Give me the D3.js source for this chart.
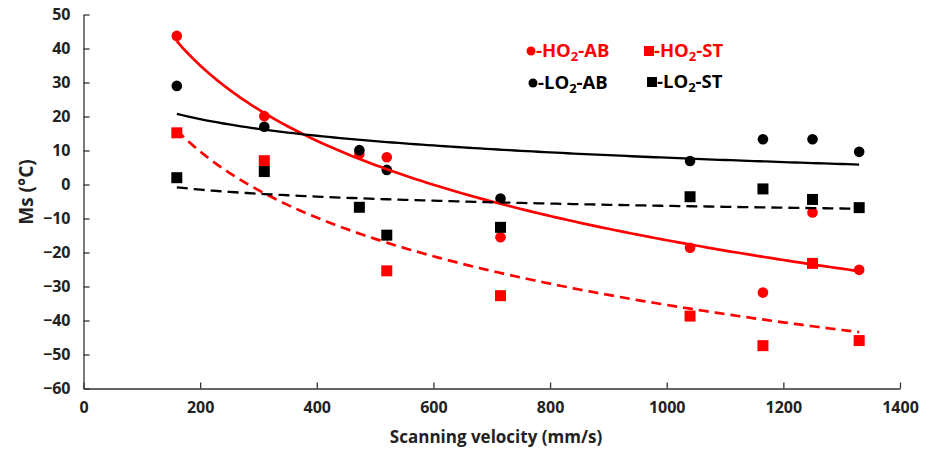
<!DOCTYPE html>
<html>
<head>
<meta charset="utf-8">
<script src="https://cdn.jsdelivr.net/npm/d3@7"></script>
<style>
  body { margin: 0; background: #fff; }
  text { font-family: "Open Sans", Lato, sans-serif; font-weight: bold; }
</style>
</head>
<body>
<div id="chart"></div>
<script>
const velocity = [160, 310, 473, 520, 715, 1040, 1165, 1250, 1330];
const hoAB = [43.7, 20.1, 9, 8, -15.5, -18.6, -31.8, -8.2, -25.1];
const hoST = [15.2, 7, null, -25.4, -32.7, -38.7, -47.4, -23.2, -45.9];
const loAB = [29, 17, 10.1, 4.3, -4.1, 6.9, 13.3, 13.3, 9.6];
const loST = [2, 3.8, -6.7, -14.9, -12.6, -3.6, -1.3, -4.4, -6.8];

const xTicks = [0, 200, 400, 600, 800, 1000, 1200, 1400];
const yTicks = [50, 40, 30, 20, 10, 0, -10, -20, -30, -40, -50, -60];

const series = [
  { name: 'HO', type: 'AB', values: hoAB, color: '#ff0000', shape: 'circle', dash: null },
  { name: 'HO', type: 'ST', values: hoST, color: '#ff0000', shape: 'square', dash: '10,6' },
  { name: 'LO', type: 'AB', values: loAB, color: '#000000', shape: 'circle', dash: null },
  { name: 'LO', type: 'ST', values: loST, color: '#000000', shape: 'square', dash: '11,6' }
];

const width = 933;
const height = 452;

const svg = d3.select('#chart')
  .append('svg')
  .attr('width', width)
  .attr('height', height);

const x = d3.scaleLinear().domain([0, 1400]).range([83.5, 900]);
const y = d3.scaleLinear().domain([-60, 50]).range([388.5, 14.5]);

// log trendline, least squares on ln(x) like Excel does
const logFit = values => {
  const pts = velocity.map((v, i) => [Math.log(v), values[i]]).filter(p => p[1] != null);
  const mx = d3.mean(pts, p => p[0]);
  const my = d3.mean(pts, p => p[1]);
  const a = d3.sum(pts, p => (p[0] - mx) * (p[1] - my)) / d3.sum(pts, p => (p[0] - mx) ** 2);
  const b = my - a * mx;
  return v => a * Math.log(v) + b;
};

const yAxis = svg.append('g')
  .attr('transform', `translate(${x(0)},0)`)
  .call(d3.axisLeft(y).tickValues(yTicks).tickFormat(d3.format('d'))
    .tickSize(-6).tickSizeOuter(0).tickPadding(13));

const xAxis = svg.append('g')
  .attr('transform', `translate(0,${y(-60)})`)
  .call(d3.axisBottom(x).tickValues(xTicks).tickFormat(d3.format('d'))
    .tickSize(-6).tickSizeOuter(0).tickPadding(13));

[xAxis, yAxis].forEach(ax => {
  ax.select('.domain').attr('stroke', '#333').attr('stroke-width', 1.3);
  ax.selectAll('.tick line').attr('stroke', '#333').attr('stroke-width', 1.3);
  ax.selectAll('.tick text')
    .attr('fill', '#222')
    .attr('font-size', 16)
    .style('font-family', '"Open Sans", sans-serif')
    .style('font-weight', 'bold');
});

svg.append('text')
  .attr('x', 496)
  .attr('y', 443)
  .attr('text-anchor', 'middle')
  .attr('font-size', 17)
  .attr('fill', '#222')
  .text('Scanning velocity (mm/s)');

svg.append('text')
  .attr('transform', 'translate(33,192) rotate(-90)')
  .attr('text-anchor', 'middle')
  .attr('font-size', 19)
  .attr('fill', '#222')
  .text('Ms (°C)');

const plot = svg.append('g');

series.forEach(s => {
  const pts = velocity.map((v, i) => [v, s.values[i]]).filter(p => p[1] != null);
  const g = plot.append('g');
  if (s.shape === 'circle') {
    g.selectAll('circle')
      .data(pts)
      .join('circle')
        .attr('cx', d => x(d[0]))
        .attr('cy', d => y(d[1]))
        .attr('r', 5.3)
        .attr('fill', s.color);
  } else {
    g.selectAll('rect')
      .data(pts)
      .join('rect')
        .attr('x', d => x(d[0]) - 5.5)
        .attr('y', d => y(d[1]) - 5.5)
        .attr('width', 11)
        .attr('height', 11)
        .attr('fill', s.color);
  }
});

series.forEach(s => {
  const fit = logFit(s.values);
  const xs = d3.range(d3.min(velocity), d3.max(velocity) + 1, 10);
  plot.append('path')
    .datum(xs)
    .attr('fill', 'none')
    .attr('stroke', s.color)
    .attr('stroke-width', s.color === '#ff0000' ? 2.7 : 2.3)
    .attr('stroke-dasharray', s.dash)
    .attr('d', d3.line().x(d => x(d)).y(d => y(fit(d))));
});

// legend
const legendPos = [[531, 51], [649, 51], [533, 83], [652, 82]];
const legend = svg.append('g');

series.forEach((s, i) => {
  const [lx, ly] = legendPos[i];
  const item = legend.append('g').attr('transform', `translate(${lx},${ly})`);
  if (s.shape === 'circle') {
    item.append('circle').attr('r', 4.5).attr('fill', s.color);
  } else {
    item.append('rect').attr('x', -5).attr('y', -5).attr('width', 10).attr('height', 10).attr('fill', s.color);
  }
  const t = item.append('text')
    .attr('x', 5)
    .attr('y', 6)
    .attr('font-size', 18.5)
    .attr('fill', s.color);
  t.append('tspan').text(`-${s.name}`);
  t.append('tspan').attr('font-size', 13).attr('dy', 4).text('2');
  t.append('tspan').attr('dy', -4).text(`-${s.type}`);
});
</script>
</body>
</html>
